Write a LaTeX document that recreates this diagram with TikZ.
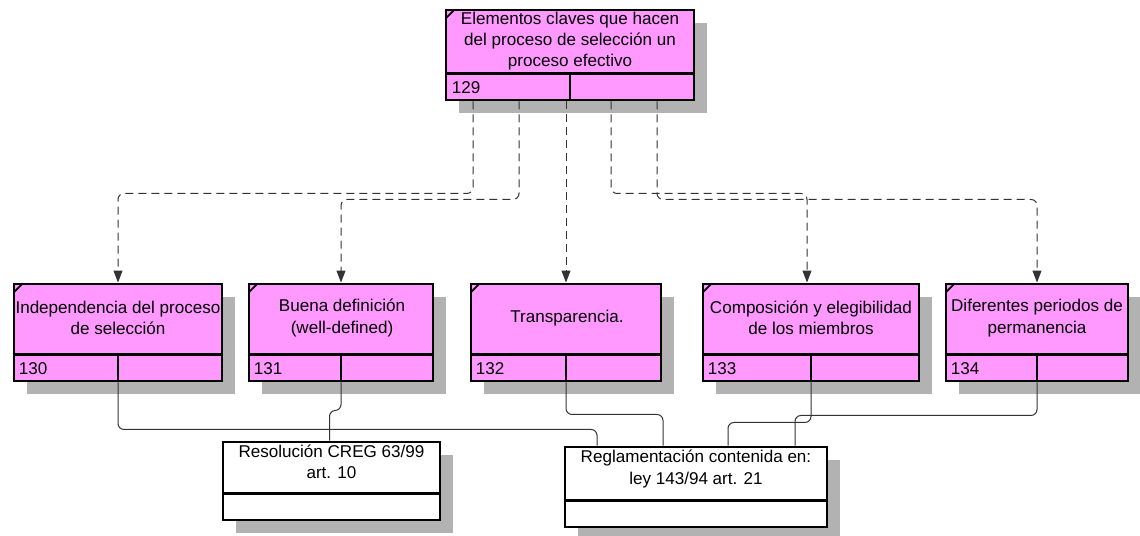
\documentclass[tikz,border=0pt]{standalone}
\usepackage{fontspec}
\setmainfont{Liberation Sans}
\usetikzlibrary{arrows.meta, calc, shadows}
\definecolor{ink}{HTML}{000000}
\definecolor{orchid}{HTML}{FF99FF}
\definecolor{wire}{HTML}{333333}
\definecolor{halftone}{HTML}{B2B2B2}
\def\px{0.75pt}

\begin{document}
\begin{tikzpicture}[
    x=\px, y=-\px,
    font=\fontsize{12.8}{16}\selectfont,
    card/.style={
      draw=ink,
      fill=orchid,
      line width=2.2pt,
      inner sep=0pt,
      drop shadow={shadow xshift=9.75pt, shadow yshift=-9.75pt, fill=halftone, opacity=1},
    },
    note/.style={
      card,
      fill=white,
    },
    split/.style={
      draw=ink,
      line width=2.2pt,
    },
    notch/.style={
      draw=ink,
      line width=1.4pt,
    },
    txt/.style={
      align=center,
      inner sep=0pt,
    },
    idx/.style={
      anchor=west,
      inner sep=0pt,
    },
    dep/.style={
      draw=wire,
      line width=0.75pt,
      dash pattern=on 6pt off 3.75pt,
      rounded corners=4.5pt,
      -{Triangle[length=9pt,width=6.75pt]},
    },
    link/.style={
      draw=wire,
      line width=0.75pt,
      rounded corners=4.5pt,
    },
  ]

  \useasboundingbox (0,0) rectangle (1140,536);

  % Element boxes
  \node[card, minimum width={248*\px}, minimum height={90*\px}] (root) at (570,55) {};
  \node[card, minimum width={208*\px}, minimum height={97*\px}] (indep) at (118,332.5) {};
  \node[card, minimum width={184*\px}, minimum height={97*\px}] (defin) at (341,332.5) {};
  \node[card, minimum width={190*\px}, minimum height={97*\px}] (transp) at (566,332.5) {};
  \node[card, minimum width={216*\px}, minimum height={97*\px}] (compos) at (811,332.5) {};
  \node[card, minimum width={182*\px}, minimum height={97*\px}] (perman) at (1037,332.5) {};

  % Source boxes
  \node[note, minimum width={217*\px}, minimum height={78*\px}] (creg) at (331.5,481) {};
  \node[note, minimum width={262*\px}, minimum height={80*\px}] (ley) at (696,487) {};

  % Lower strips
  \foreach \n in {root,indep,defin,transp,compos,perman,creg,ley} {
    \draw[split] ($(\n.south west)+(0,-28)$) -- ($(\n.south east)+(0,-28)$);
  }
  \foreach \n in {root,indep,defin,transp,compos,perman} {
    \draw[split] (\n.south) -- ++(0,-28);
    \draw[notch] ($(\n.north west)+(1,10)$) -- ++(9,-9);
  }

  % Texts
  \node[txt] (root-txt) at (570,41) {Elementos claves que hacen\\del proceso de selección un\\proceso efectivo};
  \node[txt] (indep-txt) at (118,318) {Independencia del proceso\\de selección};
  \node[txt] (defin-txt) at (342,318) {Buena definición\\(well-defined)};
  \node[txt] (transp-txt) at (567,318) {Transparencia.};
  \node[txt] (compos-txt) at (811,318) {Composición y elegibilidad\\de los miembros};
  \node[txt] (perman-txt) at (1037,318) {Diferentes periodos de\\permanencia};
  \node[txt] (creg-txt) at (331.5,462) {Resolución CREG 63/99\\art. 10};
  \node[txt] (ley-txt) at (696,469) {Reglamentación contenida en:\\ley 143/94 art. 21};

  % Numbers
  \node[idx] (root-id) at ($(root.south west)+(7,-14)$) {129};
  \node[idx] (indep-id) at ($(indep.south west)+(6,-14)$) {130};
  \node[idx] (defin-id) at ($(defin.south west)+(6,-14)$) {131};
  \node[idx] (transp-id) at ($(transp.south west)+(6,-14)$) {132};
  \node[idx] (compos-id) at ($(compos.south west)+(6,-14)$) {133};
  \node[idx] (perman-id) at ($(perman.south west)+(6,-14)$) {134};

  % Dashed dependencies
  \draw[dep] ($(root.south)+(-97,0)$) -- ++(0,92) -| (indep.north);
  \draw[dep] ($(root.south)+(-51,0)$) -- ++(0,98) -| (defin.north);
  \draw[dep] ($(root.south)+(-4,0)$) -- (transp.north);
  \draw[dep] ($(root.south)+(41,0)$) -- ++(0,92) -| ($(compos.north)+(-4,0)$);
  \draw[dep] ($(root.south)+(87,0)$) -- ++(0,98) -| (perman.north);

  % Source links
  \draw[link] (indep.south) -- ++(0,47) -| ($(ley.north)+(-99,0)$);
  \draw[link] (defin.south) -- ++(0,28) -| ($(creg.north)+(-2,0)$);
  \draw[link] (transp.south) -- ++(0,32) -| ($(ley.north)+(-33,0)$);
  \draw[link] (compos.south) -- ++(0,40) -| ($(ley.north)+(32,0)$);
  \draw[link] (perman.south) -- ++(0,33) -| ($(ley.north)+(99,0)$);

\end{tikzpicture}
\end{document}
